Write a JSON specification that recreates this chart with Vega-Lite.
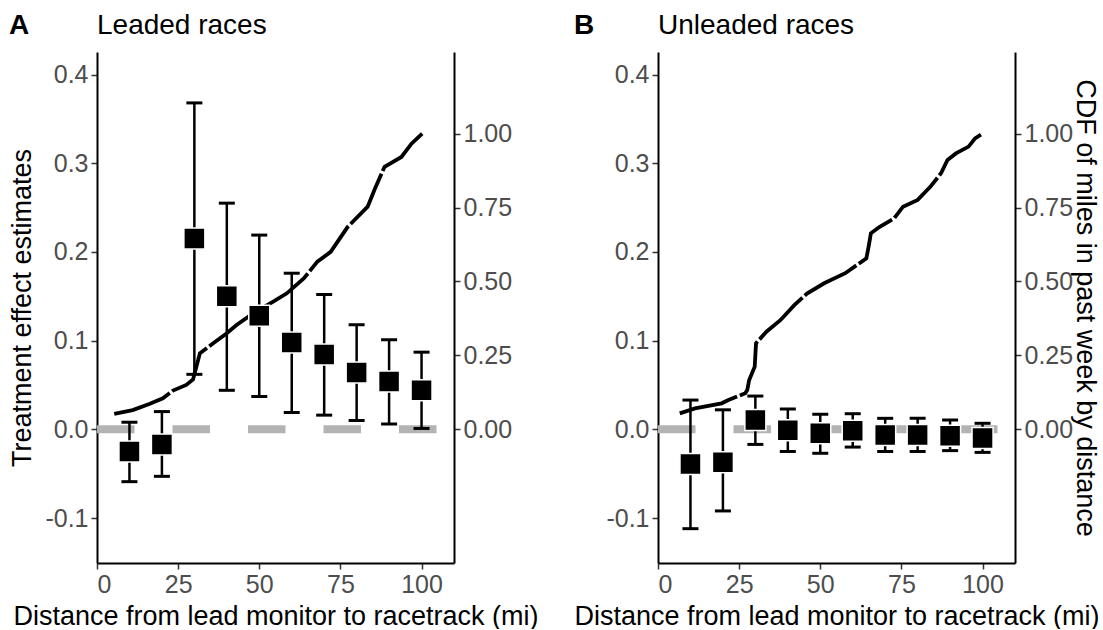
{
  "$schema": "https://vega.github.io/schema/vega-lite/v6.json",
  "background": "white",
  "padding": {"left": 8, "right": 0, "top": 12, "bottom": 0},
  "config": {
    "font": "Liberation Sans",
    "view": {"stroke": null},
    "axis": {
      "labelFont": "Liberation Sans", "labelFontSize": 25, "labelColor": "#4d4d4d",
      "titleFont": "Liberation Sans", "titleFontSize": 27, "titleFontWeight": "normal", "titleColor": "black",
      "domainColor": "black", "domainWidth": 2, "tickColor": "#333333", "tickWidth": 1.5, "tickSize": 6,
      "grid": false, "labelPadding": 3
    }
  },
  "datasets": {
    "estA": [
      {"dist": 10, "est": -0.025, "lo": -0.059, "hi": 0.008},
      {"dist": 20, "est": -0.017, "lo": -0.053, "hi": 0.020},
      {"dist": 30, "est": 0.215, "lo": 0.062, "hi": 0.368},
      {"dist": 40, "est": 0.150, "lo": 0.044, "hi": 0.255},
      {"dist": 50, "est": 0.128, "lo": 0.037, "hi": 0.219},
      {"dist": 60, "est": 0.098, "lo": 0.019, "hi": 0.176},
      {"dist": 70, "est": 0.0845, "lo": 0.016, "hi": 0.152},
      {"dist": 80, "est": 0.064, "lo": 0.010, "hi": 0.118},
      {"dist": 90, "est": 0.054, "lo": 0.006, "hi": 0.101},
      {"dist": 100, "est": 0.044, "lo": 0.001, "hi": 0.087}
    ],
    "estB": [
      {"dist": 10, "est": -0.039, "lo": -0.112, "hi": 0.033},
      {"dist": 20, "est": -0.037, "lo": -0.092, "hi": 0.022},
      {"dist": 30, "est": 0.0105, "lo": -0.017, "hi": 0.0375},
      {"dist": 40, "est": -0.001, "lo": -0.025, "hi": 0.023},
      {"dist": 50, "est": -0.0045, "lo": -0.027, "hi": 0.017},
      {"dist": 60, "est": -0.0016, "lo": -0.020, "hi": 0.0176},
      {"dist": 70, "est": -0.0064, "lo": -0.025, "hi": 0.0124},
      {"dist": 80, "est": -0.0064, "lo": -0.025, "hi": 0.0124},
      {"dist": 90, "est": -0.0072, "lo": -0.024, "hi": 0.0105},
      {"dist": 100, "est": -0.0098, "lo": -0.026, "hi": 0.0068}
    ],
    "cdfA": [
      {"dist": 5.3, "cdf": 0.052}, {"dist": 11, "cdf": 0.065}, {"dist": 16.1, "cdf": 0.086},
      {"dist": 20.3, "cdf": 0.105}, {"dist": 23.4, "cdf": 0.131}, {"dist": 27.5, "cdf": 0.150},
      {"dist": 29.6, "cdf": 0.169}, {"dist": 31.7, "cdf": 0.257}, {"dist": 35.8, "cdf": 0.291},
      {"dist": 39.9, "cdf": 0.324}, {"dist": 43, "cdf": 0.353}, {"dist": 48.2, "cdf": 0.393},
      {"dist": 54.3, "cdf": 0.432}, {"dist": 58.5, "cdf": 0.46}, {"dist": 63.7, "cdf": 0.51},
      {"dist": 67.9, "cdf": 0.567}, {"dist": 72, "cdf": 0.60}, {"dist": 77.2, "cdf": 0.684},
      {"dist": 83.4, "cdf": 0.753}, {"dist": 85.5, "cdf": 0.81}, {"dist": 88.6, "cdf": 0.888},
      {"dist": 93.8, "cdf": 0.921}, {"dist": 96.9, "cdf": 0.966}, {"dist": 100.2, "cdf": 1.0}
    ],
    "cdfB": [
      {"dist": 6.7, "cdf": 0.054}, {"dist": 11.4, "cdf": 0.071}, {"dist": 19.6, "cdf": 0.088},
      {"dist": 21.7, "cdf": 0.099}, {"dist": 26.9, "cdf": 0.122}, {"dist": 27.5, "cdf": 0.133},
      {"dist": 28.1, "cdf": 0.167}, {"dist": 29.8, "cdf": 0.212}, {"dist": 30.2, "cdf": 0.291},
      {"dist": 33.4, "cdf": 0.33}, {"dist": 37.7, "cdf": 0.369}, {"dist": 42.0, "cdf": 0.42},
      {"dist": 45.9, "cdf": 0.459}, {"dist": 51.2, "cdf": 0.494}, {"dist": 57.7, "cdf": 0.528},
      {"dist": 64.2, "cdf": 0.578}, {"dist": 64.9, "cdf": 0.618}, {"dist": 65.6, "cdf": 0.663},
      {"dist": 68.2, "cdf": 0.684}, {"dist": 72.8, "cdf": 0.714}, {"dist": 75.5, "cdf": 0.753},
      {"dist": 80, "cdf": 0.776}, {"dist": 83.9, "cdf": 0.82}, {"dist": 87.2, "cdf": 0.866},
      {"dist": 89.2, "cdf": 0.911}, {"dist": 91.8, "cdf": 0.933}, {"dist": 95.7, "cdf": 0.956},
      {"dist": 97.7, "cdf": 0.984}, {"dist": 100, "cdf": 1.0}
    ],
    "one": [{}]
  },
  "spacing": 34,
  "hconcat": [
    {
      "title": {"text": "A", "anchor": "start", "frame": "bounds", "fontSize": 28, "fontWeight": "bold", "offset": -28, "font": "Liberation Sans"},
      "vconcat": [
        {
          "width": 357, "height": 511,
          "title": {"text": "Leaded races", "anchor": "start", "frame": "group", "fontSize": 28, "fontWeight": "normal", "offset": 12, "font": "Liberation Sans"},
          "resolve": {"scale": {"y": "independent"}, "axis": {"y": "independent"}},
          "layer": [
            {
              "data": {"name": "one"},
              "mark": {"type": "rule", "color": "#b3b3b3", "strokeWidth": 8, "strokeDash": [37.5, 38], "strokeDashOffset": 58},
              "encoding": {"y": {"datum": 0, "type": "quantitative", "scale": {"domain": [-0.1507, 0.4254], "nice": false, "zero": false}, "axis": null}}
            },
            {
              "data": {"name": "cdfA"},
              "mark": {"type": "line", "color": "black", "strokeWidth": 3.8, "strokeDash": [60, 3]},
              "encoding": {
                "x": {"field": "dist", "type": "quantitative", "scale": {"domain": [0, 110], "nice": false, "zero": false}},
                "y": {"field": "cdf", "type": "quantitative", "scale": {"domain": [-0.452, 1.276], "nice": false, "zero": false},
                  "axis": {"orient": "right", "title": null, "values": [0, 0.25, 0.5, 0.75, 1], "format": ".2f"}}
              }
            },
            {
              "data": {"name": "estA"},
              "encoding": {
                "x": {"field": "dist", "type": "quantitative", "scale": {"domain": [0, 110], "nice": false, "zero": false},
                  "axis": {"title": "Distance from lead monitor to racetrack (mi)", "values": [0, 25, 50, 75, 100], "titlePadding": 6}}
              },
              "layer": [
                {
                  "mark": {"type": "rule", "color": "black", "strokeWidth": 2.5},
                  "encoding": {
                    "y": {"field": "lo", "type": "quantitative", "scale": {"domain": [-0.1507, 0.4254], "nice": false, "zero": false},
                      "axis": {"orient": "left", "title": "Treatment effect estimates", "values": [-0.1, 0, 0.1, 0.2, 0.3, 0.4],
                        "labelExpr": "replace(format(datum.value, '.1f'), '\u2212', '-')", "titlePadding": 8}},
                    "y2": {"field": "hi"}
                  }
                },
                {
                  "mark": {"type": "tick", "orient": "horizontal", "color": "black", "size": 16, "thickness": 3, "opacity": 1},
                  "encoding": {"y": {"field": "lo", "type": "quantitative"}}
                },
                {
                  "mark": {"type": "tick", "orient": "horizontal", "color": "black", "size": 16, "thickness": 3, "opacity": 1},
                  "encoding": {"y": {"field": "hi", "type": "quantitative"}}
                },
                {
                  "mark": {"type": "point", "shape": "square", "filled": true, "fill": "black", "stroke": "white", "strokeWidth": 1.5, "size": 441, "opacity": 1},
                  "encoding": {"y": {"field": "est", "type": "quantitative"}}
                }
              ]
            }
          ]
        }
      ]
    },
    {
      "title": {"text": "B", "anchor": "start", "frame": "bounds", "fontSize": 28, "fontWeight": "bold", "offset": -28, "font": "Liberation Sans"},
      "vconcat": [
        {
          "width": 357, "height": 511,
          "title": {"text": "Unleaded races", "anchor": "start", "frame": "group", "fontSize": 28, "fontWeight": "normal", "offset": 12, "font": "Liberation Sans"},
          "resolve": {"scale": {"y": "independent"}, "axis": {"y": "independent"}},
          "layer": [
            {
              "data": {"name": "one"},
              "mark": {"type": "rule", "color": "#b3b3b3", "strokeWidth": 8, "strokeDash": [37.5, 38], "strokeDashOffset": 58},
              "encoding": {"y": {"datum": 0, "type": "quantitative", "scale": {"domain": [-0.1507, 0.4254], "nice": false, "zero": false}, "axis": null}}
            },
            {
              "data": {"name": "cdfB"},
              "mark": {"type": "line", "color": "black", "strokeWidth": 3.8, "strokeDash": [60, 3]},
              "encoding": {
                "x": {"field": "dist", "type": "quantitative", "scale": {"domain": [0, 110], "nice": false, "zero": false}},
                "y": {"field": "cdf", "type": "quantitative", "scale": {"domain": [-0.452, 1.276], "nice": false, "zero": false},
                  "axis": {"orient": "right", "title": "CDF of miles in past week by distance", "values": [0, 0.25, 0.5, 0.75, 1], "format": ".2f", "titlePadding": -2}}
              }
            },
            {
              "data": {"name": "estB"},
              "encoding": {
                "x": {"field": "dist", "type": "quantitative", "scale": {"domain": [0, 110], "nice": false, "zero": false},
                  "axis": {"title": "Distance from lead monitor to racetrack (mi)", "values": [0, 25, 50, 75, 100], "titlePadding": 6}}
              },
              "layer": [
                {
                  "mark": {"type": "rule", "color": "black", "strokeWidth": 2.5},
                  "encoding": {
                    "y": {"field": "lo", "type": "quantitative", "scale": {"domain": [-0.1507, 0.4254], "nice": false, "zero": false},
                      "axis": {"orient": "left", "title": null, "values": [-0.1, 0, 0.1, 0.2, 0.3, 0.4],
                        "labelExpr": "replace(format(datum.value, '.1f'), '\u2212', '-')"}},
                    "y2": {"field": "hi"}
                  }
                },
                {
                  "mark": {"type": "tick", "orient": "horizontal", "color": "black", "size": 16, "thickness": 3, "opacity": 1},
                  "encoding": {"y": {"field": "lo", "type": "quantitative"}}
                },
                {
                  "mark": {"type": "tick", "orient": "horizontal", "color": "black", "size": 16, "thickness": 3, "opacity": 1},
                  "encoding": {"y": {"field": "hi", "type": "quantitative"}}
                },
                {
                  "mark": {"type": "point", "shape": "square", "filled": true, "fill": "black", "stroke": "white", "strokeWidth": 1.5, "size": 441, "opacity": 1},
                  "encoding": {"y": {"field": "est", "type": "quantitative"}}
                }
              ]
            }
          ]
        }
      ]
    }
  ]
}
